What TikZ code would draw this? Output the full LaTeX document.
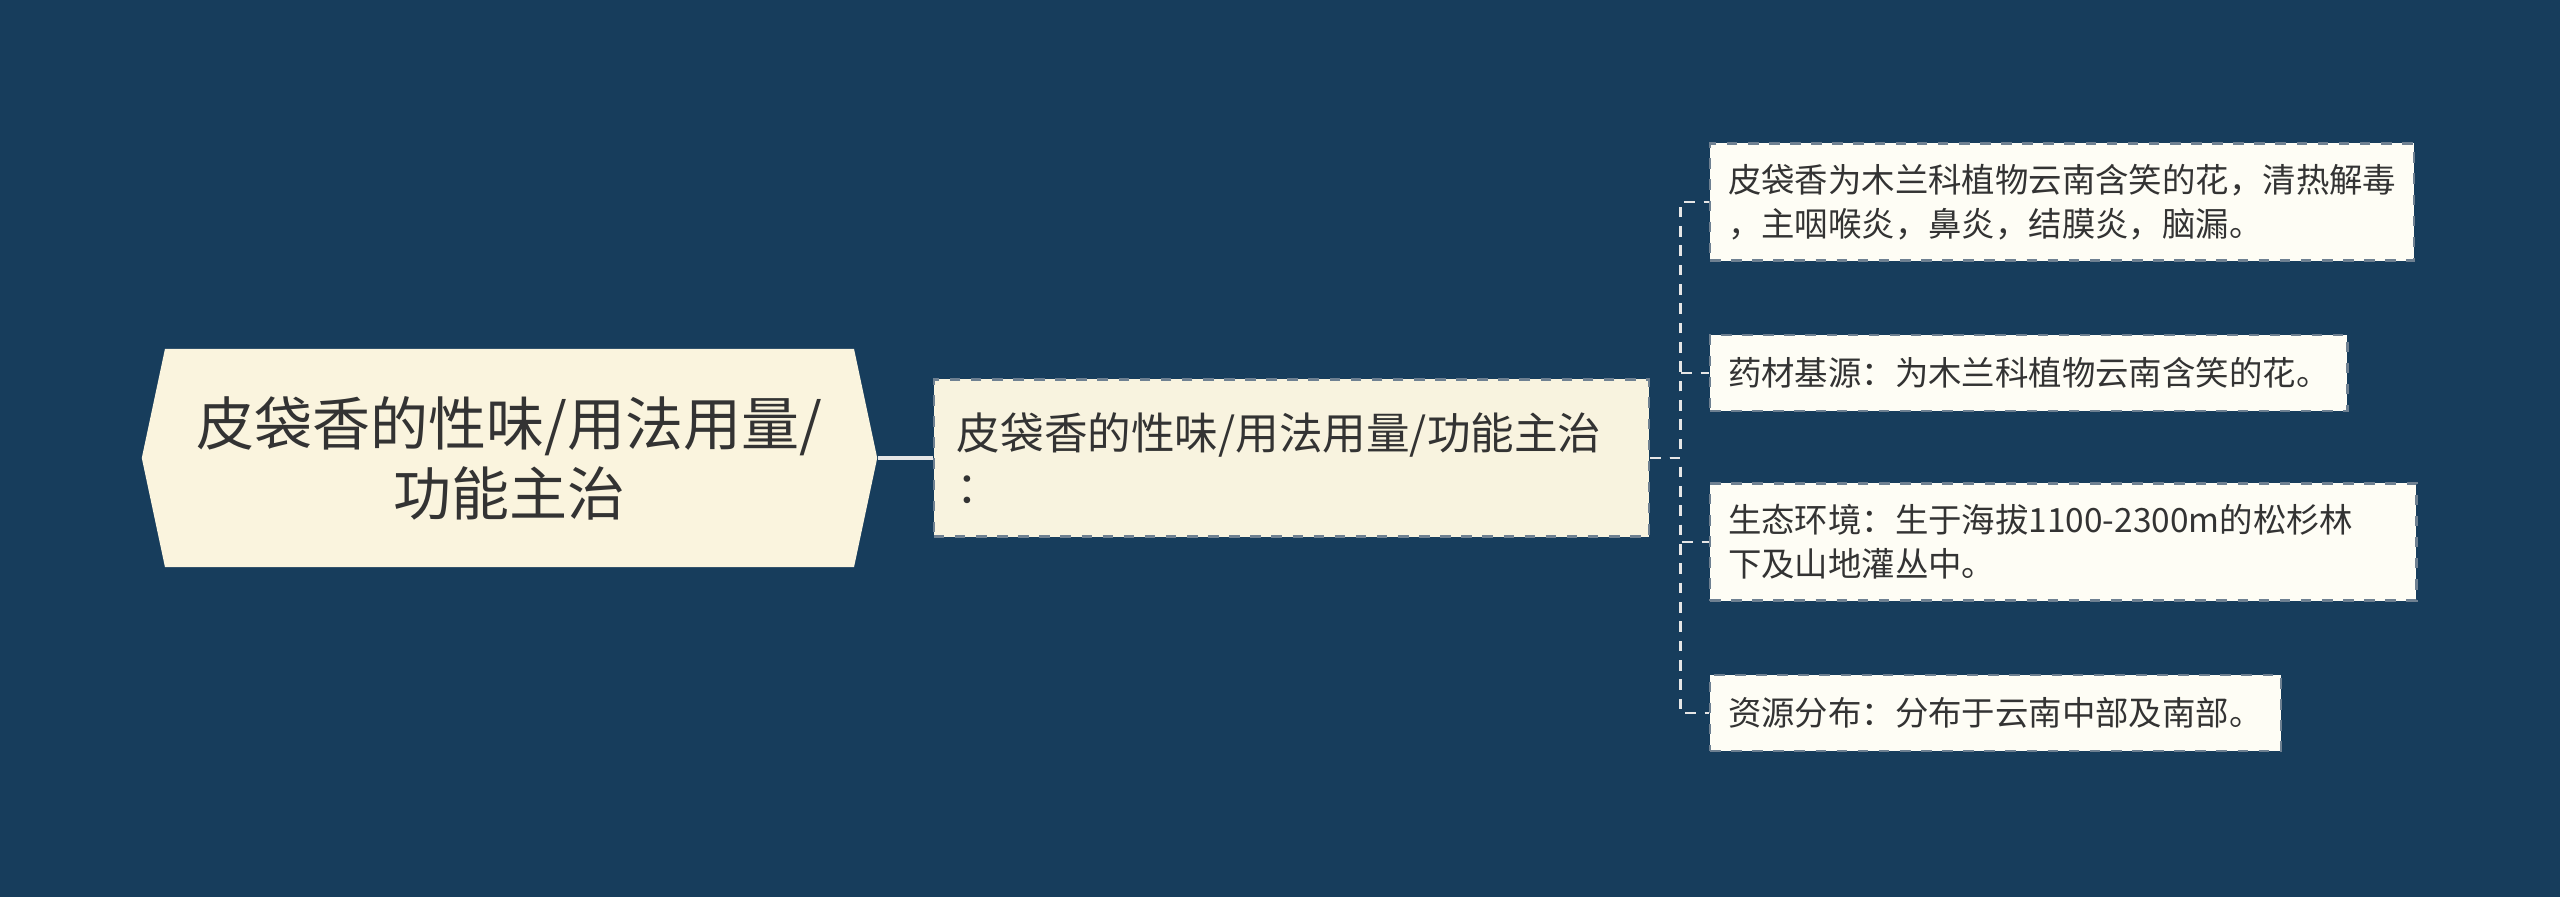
\documentclass[tikz,border=0pt]{standalone}
\usepackage{fontspec}
\setmainfont{Noto Sans CJK SC}
\usetikzlibrary{shapes.symbols}
\definecolor{bgblue}{HTML}{173D5C}
\definecolor{rootfill}{HTML}{FAF4DE}
\definecolor{mainfill}{HTML}{F8F3DF}
\definecolor{leaffill}{HTML}{FEFDF5}
\definecolor{inkgray}{HTML}{333333}
\definecolor{edgegray}{HTML}{6E8091}
\definecolor{linkgray}{HTML}{E6E6E6}

\begin{document}
\begin{tikzpicture}[x=0.01cm,y=-0.01cm,
  rootnode/.style={signal,signal to=west and east,signal pointer angle=156,fill=rootfill,text=inkgray,
    minimum width=7.35cm,minimum height=2.18cm,inner sep=0pt,align=center,
    font=\fontsize{16.5pt}{19.9pt}\selectfont},
  mainnode/.style={rectangle,fill=mainfill,draw=edgegray,dashed,line width=0.6pt,text=inkgray,
    text width=6.69cm,minimum height=1.57cm,inner xsep=0.23cm,align=left,
    font=\fontsize{12.4pt}{15.4pt}\selectfont},
  leafnode/.style={rectangle,fill=leaffill,draw=edgegray,dashed,line width=0.6pt,text=inkgray,
    inner xsep=0.18cm,minimum height=0.76cm,anchor=west,align=left,
    font=\fontsize{9.5pt}{12.5pt}\selectfont},
  link/.style={draw=linkgray,line width=1.3pt},
  branch/.style={draw=linkgray,line width=0.8pt,dash pattern=on 3pt off 2.5pt}]
\fill[bgblue] (0,0) rectangle (2560,897);
\useasboundingbox (0,0) rectangle (2560,897);

\node[rootnode] (root) at (509.5,458) {皮袋香的性味/用法用量/\\功能主治};
\node[mainnode] (main) at (1291.5,458) {皮袋香的性味/用法用量/功能主治\\：};

\node[leafnode,minimum height=1.17cm] (leaf1) at (1709,202) {皮袋香为木兰科植物云南含笑的花，清热解毒\\，主咽喉炎，鼻炎，结膜炎，脑漏。};
\node[leafnode] (leaf2) at (1709,373) {药材基源：为木兰科植物云南含笑的花。};
\node[leafnode,minimum height=1.17cm,text width=6.70cm] (leaf3) at (1709,542) {生态环境：生于海拔1100-2300m的松杉林\\下及山地灌丛中。};
\node[leafnode] (leaf4) at (1709,713) {资源分布：分布于云南中部及南部。};

\draw[link] (root.east) -- (main.west);
\foreach \n in {1,...,4}
  \draw[branch] (main.east) -- ++(30,0) |- (leaf\n.west);
\end{tikzpicture}
\end{document}
